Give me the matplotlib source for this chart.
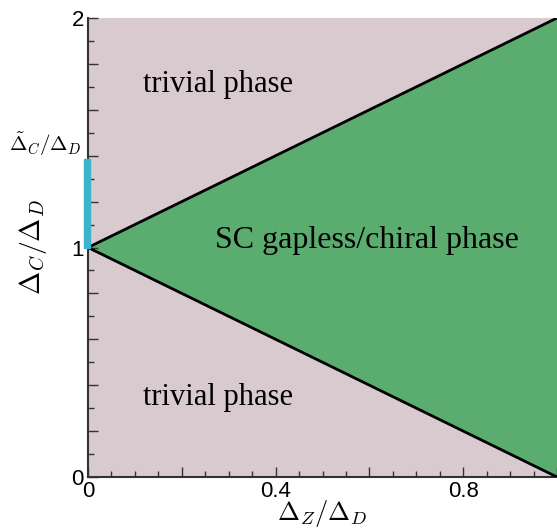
import matplotlib
matplotlib.use('Agg')
import matplotlib.pyplot as plt
from matplotlib.ticker import MultipleLocator, FixedFormatter, FixedLocator

plt.rcParams['mathtext.fontset'] = 'cm'

# phase boundaries: Delta_C/Delta_D = 1 +/- Delta_Z/Delta_D
dz = [0.0, 1.0]
upper = [1.0, 2.0]
lower = [1.0, 0.0]

# cyan segment on the y axis
cyan_y = [1.0, 1.385]

x_ticks = [0.0, 0.2, 0.4, 0.6, 0.8, 1.0]
x_labels = ['0', '', '0.4', '', '0.8', '']
y_ticks = [0.0, 0.2, 0.4, 0.6, 0.8, 1.0, 1.2, 1.4, 1.6, 1.8, 2.0]
y_labels = ['0', '', '', '', '', '1', '', '', '', '', '2']

pink = '#d9cad0'
green = '#5aad6f'

fig = plt.figure(figsize=(5.57, 5.31), dpi=100)
ax = fig.add_axes([88/557, 54/531, 469/557, 459/531])
ax.set_xlim(0, 1)
ax.set_ylim(0, 2)

ax.fill_between([0, 1], 0, 2, color=pink, zorder=0, lw=0)
ax.fill_between(dz, lower, upper, color=green, zorder=1, lw=0)
ax.plot(dz, upper, color='black', lw=2, zorder=3)
ax.plot(dz, lower, color='black', lw=2, zorder=3)

ax.fill_betweenx(cyan_y, -0.009, 0.005, color='#3ab4cc', zorder=4, clip_on=False)

serif = 'Liberation Serif'
ax.text(0.277, 1.71, 'trivial phase', fontsize=22, family=serif, ha='center', va='center')
ax.text(0.277, 0.345, 'trivial phase', fontsize=22, family=serif, ha='center', va='center')
ax.text(0.595, 1.03, 'SC gapless/chiral phase', fontsize=23, family=serif,
        ha='center', va='center')
ax.text(-0.013, 1.45, r'$\tilde{\Delta}_C/\Delta_D$', fontsize=15, ha='right', va='center')

ax.set_xlabel(r'$\Delta_Z/\Delta_D$', fontsize=19, labelpad=-3)
ax.set_ylabel(r'$\Delta_C/\Delta_D$', fontsize=20, labelpad=16)

ax.xaxis.set_major_locator(FixedLocator(x_ticks))
ax.xaxis.set_major_formatter(FixedFormatter(x_labels))
ax.xaxis.set_minor_locator(MultipleLocator(0.05))
ax.yaxis.set_major_locator(FixedLocator(y_ticks))
ax.yaxis.set_major_formatter(FixedFormatter(y_labels))
ax.yaxis.set_minor_locator(MultipleLocator(0.1))

ax.tick_params(which='both', direction='in', top=False, right=False, colors='#333333')
ax.tick_params(which='major', length=7, width=1)
ax.tick_params(which='minor', length=4, width=1)
ax.tick_params(labelsize=16, labelcolor='black', pad=3)
for lab in ax.get_xticklabels() + ax.get_yticklabels():
    lab.set_family('Liberation Sans')

ax.spines['top'].set_visible(False)
ax.spines['right'].set_visible(False)
ax.spines['left'].set_color('#333333')
ax.spines['bottom'].set_color('#333333')
ax.spines['left'].set_linewidth(1.5)
ax.spines['bottom'].set_linewidth(1.5)

fig.savefig('out.png', dpi=100)
